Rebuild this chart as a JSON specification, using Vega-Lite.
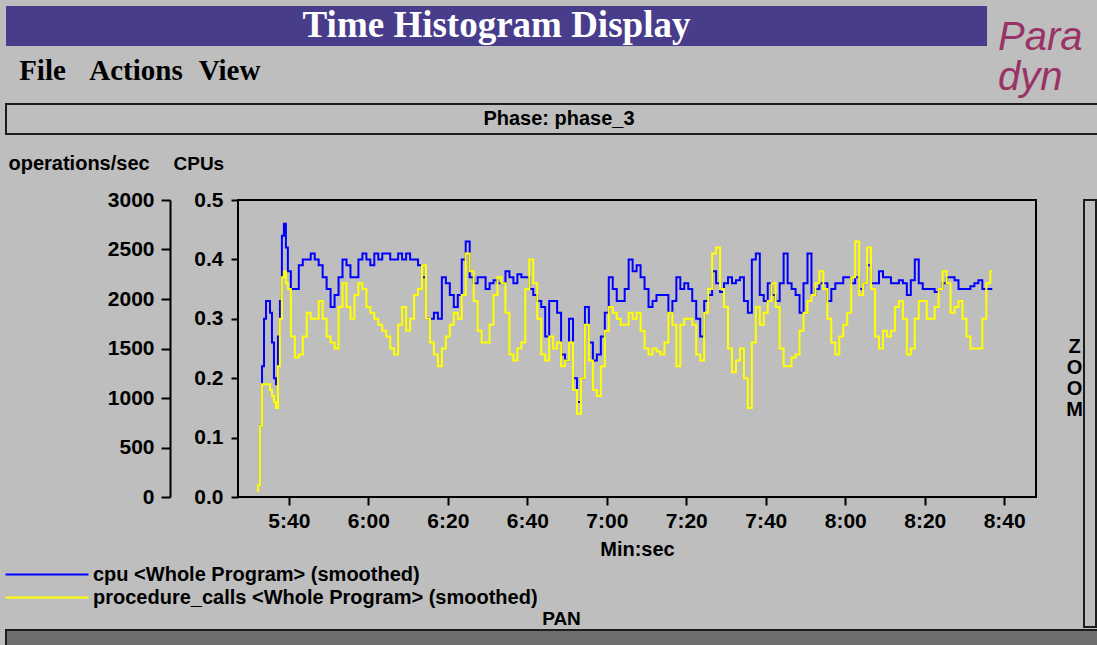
{
  "$schema": "https://vega.github.io/schema/vega-lite/v6.json",
  "background": "#bebebe",
  "padding": {"left": 5, "top": 6, "right": 0, "bottom": 0},
  "config": {
    "view": {"stroke": null, "fill": "#bebebe"},
    "font": "Liberation Sans"
  },
  "columns": 1,
  "align": "none",
  "spacing": 0,
  "concat": [
    {
      "align": "none",
      "spacing": 0,
      "concat": [
        {
          "columns": 1,
          "align": "none",
          "spacing": 0,
          "concat": [
            {
              "width": 981,
              "height": 40,
              "view": {"fill": "#483d8b", "stroke": null},
              "data": {"values": [{"label": "Time Histogram Display"}]},
              "mark": {"type": "text", "font": "Liberation Serif", "fontSize": 37, "fontWeight": "bold", "color": "#ffffff"},
              "encoding": {"text": {"field": "label"}}
            },
            {
              "width": 260,
              "height": 57,
              "data": {"values": [{"item": "File"}, {"item": "Actions"}, {"item": "View"}]},
              "mark": {"type": "text", "font": "Liberation Serif", "fontSize": 29, "fontWeight": "bold", "color": "#000000", "dy": -4},
              "encoding": {
                "x": {"field": "item", "type": "nominal", "sort": null, "scale": {"type": "point", "padding": 0.39}, "axis": null},
                "text": {"field": "item"}
              }
            }
          ]
        },
        {
          "width": 111,
          "height": 97,
          "data": {"values": [{"logo": "Para\ndyn"}]},
          "mark": {"type": "text", "lineBreak": "\n", "lineHeight": 40, "align": "left", "baseline": "alphabetic", "dx": -44.5, "dy": -4.5, "fontSize": 40, "fontStyle": "italic", "font": "Liberation Sans", "color": "#993366"},
          "encoding": {"text": {"field": "logo"}}
        }
      ]
    },
    {
      "columns": 1,
      "align": "none",
      "spacing": 17,
      "concat": [
        {
          "width": 1092,
          "height": 30,
          "view": {"stroke": "#1c1c1c", "strokeWidth": 2},
          "data": {"values": [{"label": "Phase: phase_3"}]},
          "mark": {"type": "text", "font": "Liberation Sans", "fontSize": 20, "fontWeight": "bold", "color": "#000000", "dx": 7},
          "encoding": {"text": {"field": "label"}}
        },
        {
          "align": "none",
          "spacing": 0,
          "concat": [
            {
              "width": 1,
              "height": 1,
              "data": {"values": []},
              "mark": "point"
            },
            {
              "align": "none",
              "spacing": 28,
              "concat": [
                {
                  "width": 798,
                  "height": 297,
                  "view": {"stroke": "#000000", "strokeWidth": 2},
                  "data": {"values": [
                    {"t": 332, "cpu": 0.02, "calls": 60},
                    {"t": 332.5, "cpu": 0.02, "calls": 120},
                    {"t": 333, "cpu": 0.12, "calls": 720},
                    {"t": 333.5, "cpu": 0.22, "calls": 1140},
                    {"t": 334, "cpu": 0.30, "calls": 1140},
                    {"t": 334.5, "cpu": 0.33, "calls": 1140},
                    {"t": 335, "cpu": 0.33, "calls": 1140},
                    {"t": 335.5, "cpu": 0.31, "calls": 1080},
                    {"t": 336, "cpu": 0.26, "calls": 1020},
                    {"t": 336.5, "cpu": 0.20, "calls": 960},
                    {"t": 337, "cpu": 0.19, "calls": 900},
                    {"t": 337.5, "cpu": 0.27, "calls": 1320},
                    {"t": 338, "cpu": 0.33, "calls": 1800},
                    {"t": 338.5, "cpu": 0.44, "calls": 2220},
                    {"t": 339, "cpu": 0.46, "calls": 2280},
                    {"t": 339.5, "cpu": 0.42, "calls": 2160},
                    {"t": 340, "cpu": 0.38, "calls": 2100},
                    {"t": 341, "cpu": 0.35, "calls": 1620},
                    {"t": 342, "cpu": 0.35, "calls": 1410},
                    {"t": 343, "cpu": 0.39, "calls": 1440},
                    {"t": 344, "cpu": 0.40, "calls": 1620},
                    {"t": 345, "cpu": 0.40, "calls": 1860},
                    {"t": 346, "cpu": 0.41, "calls": 1800},
                    {"t": 347, "cpu": 0.40, "calls": 1800},
                    {"t": 348, "cpu": 0.39, "calls": 1980},
                    {"t": 349, "cpu": 0.37, "calls": 1800},
                    {"t": 350, "cpu": 0.35, "calls": 1620},
                    {"t": 351, "cpu": 0.32, "calls": 1560},
                    {"t": 352, "cpu": 0.34, "calls": 1500},
                    {"t": 353, "cpu": 0.37, "calls": 1920},
                    {"t": 354, "cpu": 0.40, "calls": 2160},
                    {"t": 355, "cpu": 0.39, "calls": 1920},
                    {"t": 356, "cpu": 0.37, "calls": 1800},
                    {"t": 357, "cpu": 0.37, "calls": 2040},
                    {"t": 358, "cpu": 0.40, "calls": 2160},
                    {"t": 359, "cpu": 0.41, "calls": 2100},
                    {"t": 360, "cpu": 0.40, "calls": 1920},
                    {"t": 361, "cpu": 0.39, "calls": 1860},
                    {"t": 362, "cpu": 0.41, "calls": 1800},
                    {"t": 363, "cpu": 0.40, "calls": 1740},
                    {"t": 364, "cpu": 0.41, "calls": 1680},
                    {"t": 365, "cpu": 0.41, "calls": 1620},
                    {"t": 366, "cpu": 0.40, "calls": 1500},
                    {"t": 367, "cpu": 0.40, "calls": 1440},
                    {"t": 368, "cpu": 0.41, "calls": 1740},
                    {"t": 369, "cpu": 0.40, "calls": 1920},
                    {"t": 370, "cpu": 0.41, "calls": 1680},
                    {"t": 371, "cpu": 0.40, "calls": 1800},
                    {"t": 372, "cpu": 0.40, "calls": 2040},
                    {"t": 373, "cpu": 0.39, "calls": 2100},
                    {"t": 374, "cpu": 0.37, "calls": 2340},
                    {"t": 375, "cpu": 0.30, "calls": 1800},
                    {"t": 376, "cpu": 0.30, "calls": 1560},
                    {"t": 377, "cpu": 0.31, "calls": 1440},
                    {"t": 378, "cpu": 0.30, "calls": 1320},
                    {"t": 379, "cpu": 0.37, "calls": 1500},
                    {"t": 380, "cpu": 0.36, "calls": 1620},
                    {"t": 381, "cpu": 0.34, "calls": 1740},
                    {"t": 382, "cpu": 0.32, "calls": 1860},
                    {"t": 383, "cpu": 0.34, "calls": 1800},
                    {"t": 384, "cpu": 0.40, "calls": 2040},
                    {"t": 385, "cpu": 0.43, "calls": 2460},
                    {"t": 386, "cpu": 0.37, "calls": 2280},
                    {"t": 387, "cpu": 0.36, "calls": 1980},
                    {"t": 388, "cpu": 0.37, "calls": 1680},
                    {"t": 389, "cpu": 0.37, "calls": 1560},
                    {"t": 390, "cpu": 0.35, "calls": 1560},
                    {"t": 391, "cpu": 0.36, "calls": 1740},
                    {"t": 392, "cpu": 0.365, "calls": 2040},
                    {"t": 393, "cpu": 0.36, "calls": 2220},
                    {"t": 394, "cpu": 0.36, "calls": 2160},
                    {"t": 395, "cpu": 0.38, "calls": 1860},
                    {"t": 396, "cpu": 0.37, "calls": 1440},
                    {"t": 397, "cpu": 0.36, "calls": 1380},
                    {"t": 398, "cpu": 0.375, "calls": 1500},
                    {"t": 399, "cpu": 0.37, "calls": 1560},
                    {"t": 400, "cpu": 0.37, "calls": 2100},
                    {"t": 401, "cpu": 0.35, "calls": 2400},
                    {"t": 402, "cpu": 0.34, "calls": 2160},
                    {"t": 403, "cpu": 0.33, "calls": 1800},
                    {"t": 404, "cpu": 0.32, "calls": 1440},
                    {"t": 405, "cpu": 0.27, "calls": 1380},
                    {"t": 406, "cpu": 0.33, "calls": 1620},
                    {"t": 407, "cpu": 0.33, "calls": 1500},
                    {"t": 408, "cpu": 0.31, "calls": 1560},
                    {"t": 409, "cpu": 0.24, "calls": 1320},
                    {"t": 410, "cpu": 0.23, "calls": 1380},
                    {"t": 411, "cpu": 0.30, "calls": 1560},
                    {"t": 412, "cpu": 0.20, "calls": 1080},
                    {"t": 413, "cpu": 0.16, "calls": 840},
                    {"t": 414, "cpu": 0.20, "calls": 1200},
                    {"t": 415, "cpu": 0.32, "calls": 1740},
                    {"t": 416, "cpu": 0.26, "calls": 1380},
                    {"t": 417, "cpu": 0.23, "calls": 1080},
                    {"t": 418, "cpu": 0.24, "calls": 1020},
                    {"t": 419, "cpu": 0.27, "calls": 1320},
                    {"t": 420, "cpu": 0.31, "calls": 1680},
                    {"t": 421, "cpu": 0.37, "calls": 1920},
                    {"t": 422, "cpu": 0.35, "calls": 1860},
                    {"t": 423, "cpu": 0.33, "calls": 1800},
                    {"t": 424, "cpu": 0.33, "calls": 1740},
                    {"t": 425, "cpu": 0.35, "calls": 1740},
                    {"t": 426, "cpu": 0.40, "calls": 1860},
                    {"t": 427, "cpu": 0.38, "calls": 1800},
                    {"t": 428, "cpu": 0.39, "calls": 1860},
                    {"t": 429, "cpu": 0.37, "calls": 1680},
                    {"t": 430, "cpu": 0.35, "calls": 1500},
                    {"t": 431, "cpu": 0.32, "calls": 1440},
                    {"t": 432, "cpu": 0.33, "calls": 1500},
                    {"t": 433, "cpu": 0.34, "calls": 1470},
                    {"t": 434, "cpu": 0.34, "calls": 1440},
                    {"t": 435, "cpu": 0.34, "calls": 1560},
                    {"t": 436, "cpu": 0.31, "calls": 1860},
                    {"t": 437, "cpu": 0.33, "calls": 1740},
                    {"t": 438, "cpu": 0.37, "calls": 1320},
                    {"t": 439, "cpu": 0.35, "calls": 1740},
                    {"t": 440, "cpu": 0.36, "calls": 1800},
                    {"t": 441, "cpu": 0.35, "calls": 1800},
                    {"t": 442, "cpu": 0.33, "calls": 1740},
                    {"t": 443, "cpu": 0.30, "calls": 1440},
                    {"t": 444, "cpu": 0.27, "calls": 1380},
                    {"t": 445, "cpu": 0.33, "calls": 1860},
                    {"t": 446, "cpu": 0.34, "calls": 2100},
                    {"t": 447, "cpu": 0.38, "calls": 2460},
                    {"t": 448, "cpu": 0.36, "calls": 2520},
                    {"t": 449, "cpu": 0.345, "calls": 2100},
                    {"t": 450, "cpu": 0.36, "calls": 1920},
                    {"t": 451, "cpu": 0.37, "calls": 1500},
                    {"t": 452, "cpu": 0.36, "calls": 1260},
                    {"t": 453, "cpu": 0.365, "calls": 1380},
                    {"t": 454, "cpu": 0.37, "calls": 1500},
                    {"t": 455, "cpu": 0.33, "calls": 1200},
                    {"t": 456, "cpu": 0.31, "calls": 900},
                    {"t": 457, "cpu": 0.40, "calls": 1560},
                    {"t": 458, "cpu": 0.41, "calls": 1920},
                    {"t": 459, "cpu": 0.34, "calls": 1740},
                    {"t": 460, "cpu": 0.33, "calls": 1860},
                    {"t": 461, "cpu": 0.36, "calls": 1980},
                    {"t": 462, "cpu": 0.34, "calls": 2160},
                    {"t": 463, "cpu": 0.33, "calls": 1920},
                    {"t": 464, "cpu": 0.36, "calls": 1500},
                    {"t": 465, "cpu": 0.41, "calls": 1320},
                    {"t": 466, "cpu": 0.36, "calls": 1320},
                    {"t": 467, "cpu": 0.35, "calls": 1410},
                    {"t": 468, "cpu": 0.34, "calls": 1440},
                    {"t": 469, "cpu": 0.31, "calls": 1680},
                    {"t": 470, "cpu": 0.36, "calls": 1860},
                    {"t": 471, "cpu": 0.41, "calls": 1980},
                    {"t": 472, "cpu": 0.34, "calls": 2040},
                    {"t": 473, "cpu": 0.35, "calls": 2160},
                    {"t": 474, "cpu": 0.36, "calls": 2280},
                    {"t": 475, "cpu": 0.36, "calls": 2100},
                    {"t": 476, "cpu": 0.33, "calls": 1800},
                    {"t": 477, "cpu": 0.35, "calls": 1560},
                    {"t": 478, "cpu": 0.36, "calls": 1440},
                    {"t": 479, "cpu": 0.36, "calls": 1620},
                    {"t": 480, "cpu": 0.37, "calls": 1740},
                    {"t": 481, "cpu": 0.37, "calls": 1860},
                    {"t": 482, "cpu": 0.36, "calls": 2220},
                    {"t": 483, "cpu": 0.37, "calls": 2580},
                    {"t": 484, "cpu": 0.35, "calls": 2040},
                    {"t": 485, "cpu": 0.36, "calls": 2160},
                    {"t": 486, "cpu": 0.39, "calls": 2520},
                    {"t": 487, "cpu": 0.36, "calls": 2100},
                    {"t": 488, "cpu": 0.36, "calls": 1620},
                    {"t": 489, "cpu": 0.38, "calls": 1500},
                    {"t": 490, "cpu": 0.37, "calls": 1680},
                    {"t": 491, "cpu": 0.37, "calls": 1620},
                    {"t": 492, "cpu": 0.36, "calls": 1680},
                    {"t": 493, "cpu": 0.36, "calls": 1920},
                    {"t": 494, "cpu": 0.365, "calls": 1980},
                    {"t": 495, "cpu": 0.36, "calls": 1800},
                    {"t": 496, "cpu": 0.34, "calls": 1440},
                    {"t": 497, "cpu": 0.365, "calls": 1500},
                    {"t": 498, "cpu": 0.40, "calls": 1800},
                    {"t": 499, "cpu": 0.36, "calls": 1980},
                    {"t": 500, "cpu": 0.35, "calls": 1980},
                    {"t": 501, "cpu": 0.35, "calls": 1800},
                    {"t": 502, "cpu": 0.35, "calls": 1800},
                    {"t": 503, "cpu": 0.345, "calls": 1920},
                    {"t": 504, "cpu": 0.35, "calls": 2100},
                    {"t": 505, "cpu": 0.36, "calls": 2280},
                    {"t": 506, "cpu": 0.37, "calls": 2160},
                    {"t": 507, "cpu": 0.37, "calls": 1860},
                    {"t": 508, "cpu": 0.365, "calls": 1920},
                    {"t": 509, "cpu": 0.35, "calls": 1980},
                    {"t": 510, "cpu": 0.35, "calls": 1800},
                    {"t": 511, "cpu": 0.35, "calls": 1620},
                    {"t": 512, "cpu": 0.355, "calls": 1500},
                    {"t": 513, "cpu": 0.36, "calls": 1500},
                    {"t": 514, "cpu": 0.365, "calls": 1500},
                    {"t": 515, "cpu": 0.35, "calls": 1800},
                    {"t": 516, "cpu": 0.35, "calls": 2160},
                    {"t": 517, "cpu": 0.35, "calls": 2280}
                  ]},
                  "layer": [
                    {
                      "mark": {"type": "line", "interpolate": "step", "strokeWidth": 2},
                      "encoding": {
                        "x": {
                          "field": "t", "type": "quantitative",
                          "scale": {"domain": [327.2, 528], "nice": false, "zero": false},
                          "axis": {"orient": "bottom", "labels": false, "ticks": false, "domain": false, "grid": false,
                            "title": "PAN", "titleX": 323, "titleY": 127, "titleBaseline": "alphabetic", "titleAlign": "center",
                            "titleFont": "Liberation Sans", "titleFontSize": 19, "titleFontWeight": "bold", "titleColor": "#000000"}
                        },
                        "y": {
                          "field": "cpu", "type": "quantitative",
                          "scale": {"domain": [0, 0.5], "nice": false, "zero": true},
                          "axis": {"orient": "left", "values": [0, 0.1, 0.2, 0.3, 0.4, 0.5], "format": ".1f", "domain": false, "grid": false,
                            "tickSize": 7, "tickWidth": 2, "tickColor": "#000000", "labelPadding": 8,
                            "labelFont": "Liberation Sans", "labelFontSize": 21, "labelFontWeight": "bold", "labelColor": "#000000", "labelFlush": false, "labelOverlap": false,
                            "title": "CPUs", "titleAngle": 0, "titleAlign": "left", "titleBaseline": "alphabetic", "titleX": -65, "titleY": -31,
                            "titleFont": "Liberation Sans", "titleFontSize": 19, "titleFontWeight": "bold", "titleColor": "#000000"}
                        },
                        "color": {
                          "datum": "cpu <Whole Program> (smoothed)", "type": "nominal",
                          "scale": {"domain": ["cpu <Whole Program> (smoothed)", "procedure_calls <Whole Program> (smoothed)"], "range": ["#0000ff", "#ffff00"]},
                          "legend": {"orient": "none", "legendX": 0, "legendY": 558.5, "title": null, "padding": 0,
                            "symbolType": "M-2.1,0H14.5", "symbolSize": 100, "symbolStrokeWidth": 2, "labelOffset": 67, "rowPadding": 3,
                            "labelFont": "Liberation Sans", "labelFontSize": 20, "labelFontWeight": "bold", "labelColor": "#000000", "labelLimit": 700}
                        }
                      }
                    },
                    {
                      "mark": {"type": "line", "interpolate": "step", "strokeWidth": 2},
                      "encoding": {
                        "x": {
                          "field": "t", "type": "quantitative",
                          "scale": {"domain": [327.2, 528], "nice": false, "zero": false},
                          "axis": {"orient": "bottom", "values": [340, 360, 380, 400, 420, 440, 460, 480, 500, 520],
                            "labelExpr": "floor(datum.value / 60) + ':' + (datum.value % 60 < 10 ? '0' : '') + (datum.value % 60)",
                            "domain": false, "grid": false, "tickSize": 8, "tickWidth": 2, "tickColor": "#000000", "labelPadding": 5,
                            "labelFont": "Liberation Sans", "labelFontSize": 21, "labelFontWeight": "bold", "labelColor": "#000000", "labelFlush": false, "labelOverlap": false,
                            "title": "Min:sec", "titleY": 58, "titleBaseline": "alphabetic",
                            "titleFont": "Liberation Sans", "titleFontSize": 20, "titleFontWeight": "bold", "titleColor": "#000000"}
                        },
                        "y": {
                          "field": "calls", "type": "quantitative",
                          "scale": {"domain": [0, 3000], "nice": false, "zero": true},
                          "axis": {"orient": "left", "offset": 68, "values": [0, 500, 1000, 1500, 2000, 2500, 3000], "format": "d",
                            "domain": true, "domainColor": "#000000", "domainWidth": 2, "grid": false,
                            "tickSize": 9, "tickWidth": 2, "tickColor": "#000000", "labelPadding": 7,
                            "labelFont": "Liberation Sans", "labelFontSize": 21, "labelFontWeight": "bold", "labelColor": "#000000", "labelFlush": false, "labelOverlap": false,
                            "title": "operations/sec", "titleAngle": 0, "titleAlign": "left", "titleBaseline": "alphabetic", "titleX": -162, "titleY": -31,
                            "titleFont": "Liberation Sans", "titleFontSize": 20, "titleFontWeight": "bold", "titleColor": "#000000"}
                        },
                        "color": {"datum": "procedure_calls <Whole Program> (smoothed)", "type": "nominal"}
                      }
                    }
                  ],
                  "resolve": {"scale": {"x": "independent", "y": "independent"}}
                },
                {
                  "width": 12,
                  "height": 427,
                  "view": {"stroke": "#1c1c1c", "strokeWidth": 2},
                  "data": {"values": [{"label": "Z\nO\nO\nM"}]},
                  "mark": {"type": "text", "lineBreak": "\n", "lineHeight": 21, "fontSize": 20, "fontWeight": "bold", "font": "Liberation Sans", "color": "#000000", "dx": -15.5, "dy": -67},
                  "encoding": {"text": {"field": "label"}}
                }
              ]
            }
          ]
        }
      ]
    },
    {
      "width": 1092,
      "height": 18,
      "view": {"fill": "#6e6e6e", "stroke": "#1c1c1c", "strokeWidth": 2},
      "data": {"values": []},
      "mark": "point"
    }
  ]
}
